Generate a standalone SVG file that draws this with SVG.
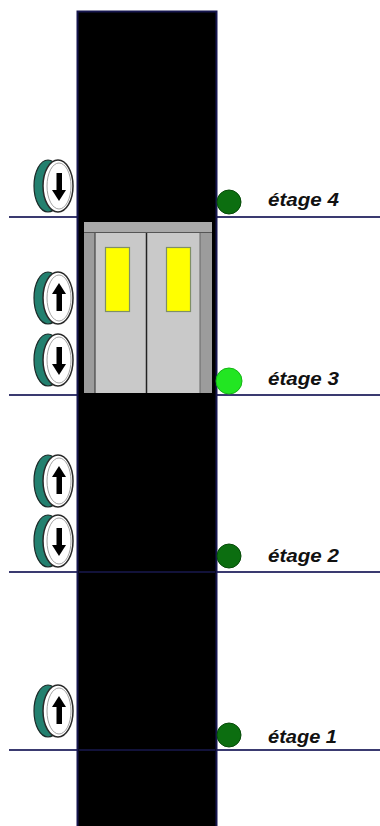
<svg xmlns="http://www.w3.org/2000/svg" width="380" height="826" viewBox="0 0 380 826">
  <style>
    .floor { stroke: #3a3a70; stroke-width: 2; }
    .floor-in { stroke: #12123a; stroke-width: 2; }
    .label { font-family: "Liberation Sans", Arial, sans-serif; font-size: 19px; font-weight: bold; font-style: italic; fill: #111111; }
    .lamp-off { fill: #0c6e10; stroke: #064a08; stroke-width: 1; }
    .lamp-on { fill: #22e622; stroke: #14b414; stroke-width: 1; }
    .btn-back { fill: #23806f; stroke: #1a2a28; stroke-width: 1.2; }
    .btn-face { fill: #ffffff; stroke: #2a2a2a; stroke-width: 1.5; }
    .btn-ring { fill: none; stroke: #8a8a8a; stroke-width: 0.8; }
    .arrow { fill: #000000; }
  </style>
  <defs>
    <!-- call button seen at an angle: teal rim behind a white face -->
    <g id="btn-base">
      <ellipse class="btn-back" cx="-10" cy="0" rx="14" ry="26"/>
      <ellipse class="btn-face" cx="0" cy="0" rx="15" ry="26"/>
      <ellipse class="btn-ring" cx="1" cy="0" rx="12" ry="23"/>
    </g>
    <g id="btn-up">
      <use href="#btn-base"/>
      <rect class="arrow" x="-1.5" y="-6" width="5.5" height="19"/>
      <polygon class="arrow" points="-6,-4 8,-4 1,-15"/>
    </g>
    <g id="btn-down">
      <use href="#btn-base"/>
      <rect class="arrow" x="-1.5" y="-13" width="5.5" height="19"/>
      <polygon class="arrow" points="-6,4 8,4 1,15"/>
    </g>
  </defs>

  <rect width="380" height="826" fill="#ffffff"/>

  <!-- floor lines -->
  <g id="floors">
    <line class="floor" x1="9" y1="217" x2="380" y2="217"/>
    <line class="floor" x1="9" y1="395" x2="380" y2="395"/>
    <line class="floor" x1="9" y1="572" x2="380" y2="572"/>
    <line class="floor" x1="9" y1="750" x2="380" y2="750"/>
  </g>

  <!-- shaft -->
  <g id="shaft">
    <rect x="77.5" y="11.5" width="139" height="820" fill="#000000" stroke="#16164e" stroke-width="2"/>
    <line class="floor-in" x1="79" y1="572" x2="215" y2="572"/>
    <line class="floor-in" x1="79" y1="750" x2="215" y2="750"/>
  </g>

  <!-- cabin at floor 3 -->
  <g id="cabin">
    <rect x="84" y="222" width="128" height="171" fill="#9c9c9c"/>
    <rect x="84" y="222" width="128" height="10" fill="#a9a9a9"/>
    <line x1="84" y1="232.5" x2="212" y2="232.5" stroke="#555" stroke-width="1"/>
    <rect x="95" y="233" width="105" height="160" fill="#c9c9c9"/>
    <line x1="95" y1="233" x2="95" y2="393" stroke="#444" stroke-width="1.2"/>
    <line x1="200" y1="233" x2="200" y2="393" stroke="#666" stroke-width="1"/>
    <line x1="146.5" y1="233" x2="146.5" y2="393" stroke="#222" stroke-width="1.5"/>
    <rect x="105.5" y="247.5" width="24" height="64" fill="#ffff00" stroke="#7f8f66" stroke-width="1.2"/>
    <rect x="166.5" y="247.5" width="24" height="64" fill="#ffff00" stroke="#7f8f66" stroke-width="1.2"/>
  </g>

  <!-- call buttons -->
  <g id="call-4-down"><use href="#btn-down" x="58" y="186"/></g>
  <g id="call-3-up"><use href="#btn-up" x="58" y="298"/></g>
  <g id="call-3-down"><use href="#btn-down" x="58" y="360"/></g>
  <g id="call-2-up"><use href="#btn-up" x="58" y="481"/></g>
  <g id="call-2-down"><use href="#btn-down" x="58" y="541"/></g>
  <g id="call-1-up"><use href="#btn-up" x="58" y="711"/></g>

  <!-- floor lamps and labels -->
  <g id="floor-4">
    <circle class="lamp-off" cx="229" cy="202" r="12"/>
    <text class="label" x="268" y="206" textLength="71" lengthAdjust="spacingAndGlyphs">étage 4</text>
  </g>
  <g id="floor-3">
    <circle class="lamp-on" cx="229" cy="381" r="13"/>
    <text class="label" x="268" y="385" textLength="71" lengthAdjust="spacingAndGlyphs">étage 3</text>
  </g>
  <g id="floor-2">
    <circle class="lamp-off" cx="229" cy="556" r="12"/>
    <text class="label" x="268" y="562" textLength="71" lengthAdjust="spacingAndGlyphs">étage 2</text>
  </g>
  <g id="floor-1">
    <circle class="lamp-off" cx="229" cy="735" r="12"/>
    <text class="label" x="268" y="743" textLength="69" lengthAdjust="spacingAndGlyphs">étage 1</text>
  </g>
</svg>
